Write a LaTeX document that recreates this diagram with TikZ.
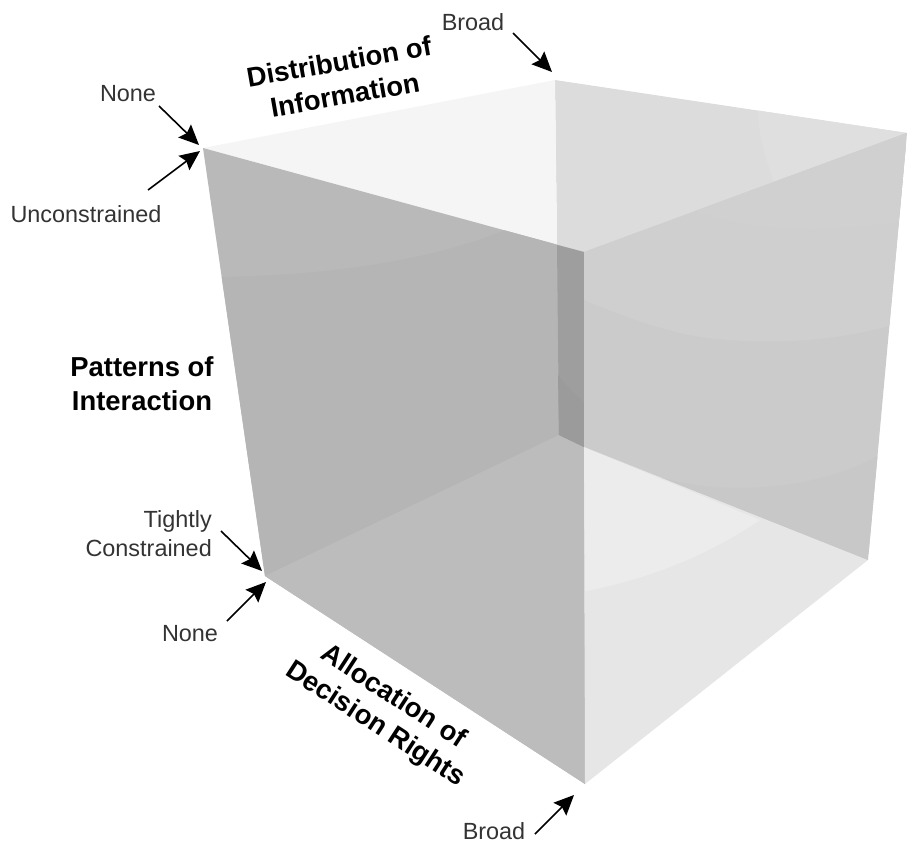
\documentclass[tikz,border=0pt]{standalone}
\usepackage{fontspec}
\setmainfont{Liberation Sans}
\usetikzlibrary{arrows.meta}
\definecolor{topL}{HTML}{F5F5F5}
\definecolor{topR}{HTML}{DCDCDC}
\definecolor{topRb}{HTML}{DFDFDF}
\definecolor{wallL}{HTML}{B9B9B9}
\definecolor{wallLb}{HTML}{B5B5B5}
\definecolor{floorL}{HTML}{BCBCBC}
\definecolor{strip}{HTML}{9E9E9E}
\definecolor{stripb}{HTML}{9B9B9B}
\definecolor{wallRt}{HTML}{D0D0D0}
\definecolor{wallRa}{HTML}{CFCFCF}
\definecolor{wallRb}{HTML}{CBCBCB}
\definecolor{wallRc}{HTML}{C8C8C8}
\definecolor{floorR}{HTML}{E6E6E6}
\definecolor{floorRb}{HTML}{ECECEC}
\definecolor{ink}{HTML}{333333}
\tikzset{
  x=1bp,y=-1bp,
  lab/.style={text=ink,inner sep=0pt,font=\fontsize{23.5}{29}\selectfont,align=center},
  labr/.style={text=ink,inner sep=0pt,font=\fontsize{23.5}{29}\selectfont,align=right},
  axis/.style={text=black,inner sep=0pt,font=\fontsize{27.5}{34}\selectfont\bfseries,align=center},
  ptr/.style={draw=black,line width=1.6bp,-{Stealth[length=20bp,width=18bp,inset=3bp]}},
}
\begin{document}
\begin{tikzpicture}
\useasboundingbox (0,0) rectangle (907,841);
% corners
\coordinate (A) at (203,148);
\coordinate (B) at (555,80);
\coordinate (C) at (907,133);
\coordinate (D) at (584,252);
\coordinate (E) at (265,576);
\coordinate (F) at (559,435);
\coordinate (G) at (868,560);
\coordinate (H) at (585,784);
\coordinate (Dp) at (557,245);
\coordinate (Hp) at (584,447);
% top
\fill[topR] (B) -- (C) -- (D) -- (Dp) -- cycle;
\begin{scope}
\clip (B) -- (C) -- (D) -- (Dp) -- cycle;
\fill[topRb] (757,100) .. controls (757,130) and (765,160) .. (777,190) -- (920,133) -- (920,100) -- cycle;
\end{scope}
\fill[topL] (A) -- (B) -- (Dp) -- cycle;
% left wall
\fill[wallL] (A) -- (D) -- (H) -- (E) -- cycle;
\begin{scope}
\clip (A) -- (D) -- (H) -- (E) -- cycle;
\fill[wallLb] (215,277) .. controls (320,276) and (430,262) .. (510,228) -- (Dp) -- (F) -- (E) -- (200,576) -- cycle;
\end{scope}
\fill[floorL] (E) -- (F) -- (Hp) -- (H) -- cycle;
% back strip
\fill[strip] (Dp) -- (D) -- (Hp) -- (F) -- cycle;
\fill[stripb] (558,375) .. controls (566,385) and (575,395) .. (584,402) -- (Hp) -- (F) -- cycle;
% right wall
\fill[wallRb] (D) -- (C) -- (G) -- (Hp) -- cycle;
\fill[floorR] (Hp) -- (G) -- (H) -- cycle;
\fill[floorRb] (Hp) -- (760,520) .. controls (705,557) and (650,578) .. (587,591) -- (585,591) -- cycle;
\begin{scope}
\clip (D) -- (C) -- (G) -- (Hp) -- cycle;
\fill[wallRa] (D) -- (C) -- (920,316) .. controls (840,345) and (760,345) .. (700,337) .. controls (660,330) and (620,315) .. (584,300) -- cycle;
\fill[wallRt] (680,203) .. controls (720,225) and (800,240) .. (920,218) -- (920,133) -- (C) -- cycle;
\fill[wallRc] (Hp) -- (G) -- (885,452) .. controls (840,478) and (790,488) .. (735,488) .. controls (680,488) and (630,470) .. (584,447) -- cycle;
\end{scope}
% labels
\node[lab] (none1) at (128,94) {None};
\node[lab] (uncon) at (86,214) {Unconstrained};
\node[lab] (broad1) at (473,22) {Broad};
\node[labr,anchor=east] (tight) at (212,534) {Tightly\\Constrained};
\node[lab] (none2) at (190,634) {None};
\node[lab] (broad2) at (494,831) {Broad};
\node[axis] (dist) at (342,78) [rotate=10] {Distribution of\\Information};
\node[axis] (patt) at (142,384) {Patterns of\\Interaction};
\node[axis,font=\fontsize{27.5}{33}\selectfont\bfseries] (alloc) at (384,711) [rotate=-33] {Allocation of\\Decision Rights};
% pointers
\coordinate (s1) at (159,106); \coordinate (e1) at (199,145);
\coordinate (s2) at (148,190); \coordinate (e2) at (200,151);
\coordinate (s3) at (513,33);  \coordinate (e3) at (552,72);
\coordinate (s4) at (221,531); \coordinate (e4) at (262,571);
\coordinate (s5) at (227,621); \coordinate (e5) at (266,582);
\coordinate (s6) at (535,834); \coordinate (e6) at (574,795);
\draw[ptr] (s1) -- (e1);
\draw[ptr] (s2) -- (e2);
\draw[ptr] (s3) -- (e3);
\draw[ptr] (s4) -- (e4);
\draw[ptr] (s5) -- (e5);
\draw[ptr] (s6) -- (e6);
\end{tikzpicture}
\end{document}
